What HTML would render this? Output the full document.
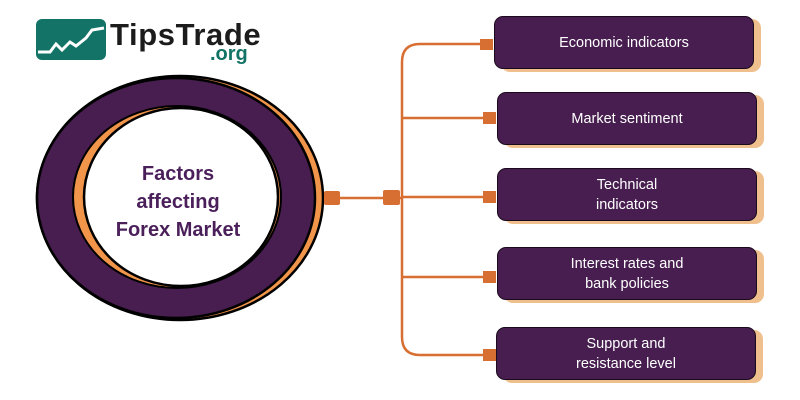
<!DOCTYPE html>
<html><head><style>
body{margin:0;width:800px;height:400px;background:#fff;overflow:hidden;position:relative;font-family:"Liberation Sans",sans-serif}
.b{position:absolute;width:260px;height:53px;background:#471e4f;border:1.5px solid #1a0a1c;border-radius:9px;box-shadow:7px 3px 0 #efc08e;color:#fff;font-size:14.5px;display:flex;align-items:center;justify-content:center;text-align:center;line-height:20px;box-sizing:border-box}
</style></head><body>
<svg width="800" height="400" style="position:absolute;left:0;top:0">
<rect x="36" y="19" width="70" height="41" rx="6" fill="#137366"/>
<polyline points="38,52 50,52 56,44 62,50 70,42 76,46 86,38 92,30 104,28" fill="none" stroke="#fff" stroke-width="3"/>
<text x="110" y="45" font-family="Liberation Sans" font-weight="bold" font-size="31" letter-spacing="0.6" fill="#1c1c1c">TipsTrade</text>
<text x="210" y="60" font-family="Liberation Sans" font-weight="bold" font-size="20" fill="#137366">.org</text>
<ellipse cx="180" cy="198" rx="143" ry="122" fill="#f0954a" stroke="#000" stroke-width="2.5"/>
<ellipse cx="176" cy="198" rx="139" ry="120" fill="#471e4f"/>
<ellipse cx="176" cy="198" rx="139" ry="120" fill="none" stroke="#000" stroke-width="2.5"/>
<ellipse cx="177" cy="197" rx="104" ry="91" fill="#f0954a" stroke="#000" stroke-width="2"/>
<ellipse cx="181" cy="197" rx="97" ry="89" fill="#fff" stroke="#000" stroke-width="2.5"/>
<text font-family="Liberation Sans" font-weight="bold" font-size="20" fill="#4a1f5a" text-anchor="middle"><tspan x="178" y="180">Factors</tspan><tspan x="178" y="208">affecting</tspan><tspan x="178" y="236">Forex Market</tspan></text>
<g stroke="#d86f32" stroke-width="2.5" fill="none">
<line x1="330" y1="198" x2="402" y2="198"/>
<path d="M488,44 H420 Q402,44 402,62 V337 Q402,355 420,355 H488"/>
<line x1="402" y1="118" x2="488" y2="118"/>
<line x1="402" y1="197" x2="488" y2="197"/>
<line x1="402" y1="277" x2="488" y2="277"/>
</g>
<g fill="#d86f32">
<rect x="324" y="191" width="16" height="14" rx="2"/>
<rect x="383" y="190" width="17" height="15" rx="2"/>
<rect x="480" y="39" width="13" height="11"/>
<rect x="483" y="112" width="13" height="12"/>
<rect x="483" y="191" width="13" height="12"/>
<rect x="483" y="271" width="13" height="12"/>
<rect x="483" y="349" width="13" height="12"/>
</g>
</svg>
<div class="b" style="left:494px;top:16px">Economic indicators</div>
<div class="b" style="left:497px;top:92px">Market sentiment</div>
<div class="b" style="left:497px;top:168px">Technical<br>indicators</div>
<div class="b" style="left:497px;top:247px">Interest rates and<br>bank policies</div>
<div class="b" style="left:496px;top:327px">Support and<br>resistance level</div>
</body></html>
